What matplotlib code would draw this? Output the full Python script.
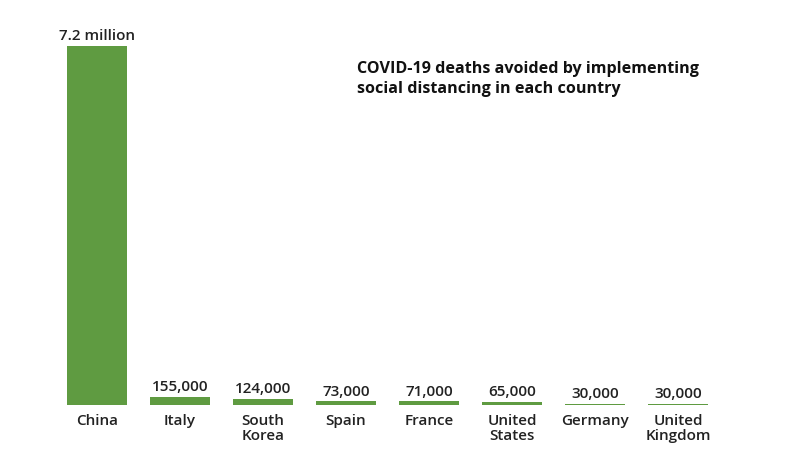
import matplotlib.pyplot as plt

countries = ["China", "Italy", "South\nKorea", "Spain", "France", "United\nStates", "Germany", "United\nKingdom"]
deaths_avoided = [7200000, 155000, 124000, 73000, 71000, 65000, 30000, 30000]
value_labels = ["7.2 million", "155,000", "124,000", "73,000", "71,000", "65,000", "30,000", "30,000"]

plt.rcParams['font.family'] = ['Open Sans', 'DejaVu Sans']

fig = plt.figure(figsize=(8, 4.5), dpi=100)
ax = fig.add_axes([0.0694, 0.1, 0.83, 0.798])

x = range(len(countries))
ax.bar(x, deaths_avoided, width=0.72, color='#5f9b41')
ax.set_xlim(-0.5, 7.5)
ax.set_ylim(0, 7.2e6)

for i, (v, lab) in enumerate(zip(deaths_avoided, value_labels)):
    ax.annotate(lab, (i, v), xytext=(0, 2), textcoords='offset points',
                ha='center', va='bottom', fontsize=11, fontweight='semibold',
                color='#222222', annotation_clip=False)

ax.set_xticks(list(x))
ax.set_xticklabels(countries, fontsize=11, fontweight='semibold', color='#222222', linespacing=1.05)
ax.tick_params(axis='x', length=0, pad=6.5)
ax.set_yticks([])
for s in ax.spines.values():
    s.set_visible(False)

fig.text(0.446, 0.864, "COVID-19 deaths avoided by implementing\nsocial distancing in each country",
         fontsize=11.6, fontweight='bold', color='#111111', ha='left', va='top', linespacing=1.35)

fig.savefig('out.png', dpi=100, facecolor='white')
